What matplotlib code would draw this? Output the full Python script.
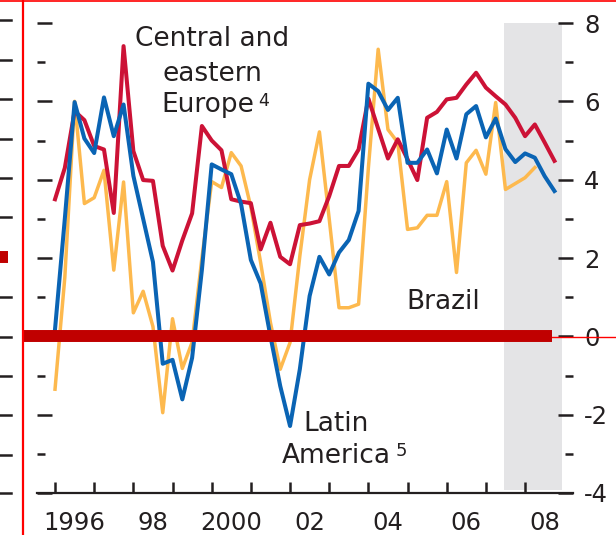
import matplotlib
matplotlib.use("Agg")
import matplotlib.pyplot as plt
import numpy as np
from matplotlib.lines import Line2D
from matplotlib.ticker import FixedLocator, NullFormatter, FixedFormatter

plt.rcParams['font.family'] = ['DejaVu Sans']
plt.rcParams['axes.unicode_minus'] = False

# ---- data (quarterly, 1996Q1 .. 2008Q4) ----
start_year = 1996
n_quarters = 52
quarters = start_year + 0.25 * np.arange(n_quarters)

central_eastern_europe = [3.50, 4.30, 5.75, 5.52, 4.86, 4.77, 3.15, 7.41,
                          4.73, 3.99, 3.97, 2.31, 1.68, 2.45, 3.14, 5.37,
                          5.00, 4.75, 3.50, 3.44, 3.40, 2.22, 2.90, 2.03,
                          1.84, 2.84, 2.88, 2.94, 3.58, 4.35, 4.35, 4.77,
                          6.07, 5.30, 4.54, 5.03, 4.52, 3.99, 5.58, 5.73,
                          6.05, 6.09, 6.43, 6.73, 6.35, 6.13, 5.92, 5.58,
                          5.11, 5.41, 4.95, 4.48]
latin_america = [0.18, 3.00, 5.98, 5.05, 4.68, 6.10, 5.11, 5.92,
                 4.10, 3.00, 1.90, -0.70, -0.60, -1.61, -0.55, 1.70,
                 4.39, 4.26, 4.14, 3.38, 1.95, 1.35, 0.00, -1.27,
                 -2.29, -0.84, 1.03, 2.03, 1.58, 2.14, 2.46, 3.20,
                 6.45, 6.26, 5.78, 6.09, 4.43, 4.43, 4.77, 4.16,
                 5.28, 4.54, 5.67, 5.88, 5.08, 5.56, 4.78, 4.45,
                 4.67, 4.56, 4.09, 3.71]
brazil = [-1.35, 1.50, 6.00, 3.39, 3.54, 4.24, 1.69, 3.94,
          0.60, 1.15, 0.25, -1.95, 0.45, -0.82, -0.15, 2.00,
          3.95, 3.80, 4.69, 4.35, 3.30, 1.88, 0.35, -0.84,
          -0.16, 2.05, 4.00, 5.22, 3.00, 0.73, 0.73, 0.82,
          4.30, 7.33, 5.28, 4.95, 2.73, 2.77, 3.09, 3.09,
          3.95, 1.63, 4.43, 4.75, 4.14, 5.97, 3.75, 3.90,
          4.05, 4.31]

year_ticks = list(range(1996, 2009))
label_years = [1996.5, 1998.5, 2000.5, 2002.5, 2004.5, 2006.5, 2008.5]
label_texts = ['1996', '98', '2000', '02', '04', '06', '08']
y_major = [-4, -2, 0, 2, 4, 6, 8]
y_minor = [-3, -1, 1, 3, 5, 7]
shade_span = (2007.46, 2008.94)

RED = '#cc1236'
BLUE = '#0a64b4'
YELLOW = '#fdb94e'
DARK = '#231f20'

W, H = 616, 535
fig = plt.figure(figsize=(W / 100, H / 100), dpi=100)
fig.patch.set_facecolor('white')

L_px, R_px, T_px, B_px = 37, 573, 23, 493
ax = fig.add_axes([L_px / W, (H - B_px) / H, (R_px - L_px) / W, (B_px - T_px) / H])
ax.set_xlim(1995.54, 2009.224)
ax.set_ylim(-4, 8)
ax.set_facecolor('none')

def px2x(px):
    return 1996 + (px - 55) / 39.17

def py2y(py):
    return (337 - py) / 39.17

ax.axvspan(*shade_span, ymin=0.006, ymax=1.0, color='#e4e4e6', lw=0, zorder=0)

ax.plot(quarters[:len(brazil)], brazil, color=YELLOW, lw=2.5, zorder=3)
ax.plot(quarters, central_eastern_europe, color=RED, lw=2.9, zorder=4)
ax.plot(quarters, latin_america, color=BLUE, lw=2.9, zorder=5)

# thick zero line
ax.axhline(0, xmin=(22 - L_px) / (R_px - L_px), xmax=(552 - L_px) / (R_px - L_px),
           color='#c00000', lw=8.6, clip_on=False, zorder=10, solid_capstyle='butt')

for s in ['left', 'right', 'top']:
    ax.spines[s].set_visible(False)
ax.spines['bottom'].set_color(DARK)
ax.spines['bottom'].set_linewidth(1.6)

ax.xaxis.set_major_locator(FixedLocator(year_ticks))
ax.xaxis.set_major_formatter(NullFormatter())
ax.xaxis.set_minor_locator(FixedLocator(label_years))
ax.xaxis.set_minor_formatter(FixedFormatter(label_texts))
ax.tick_params(axis='x', which='major', direction='in', length=8, width=1.8, color=DARK)
ax.tick_params(axis='x', which='minor', length=0, pad=13, labelsize=17.5, labelcolor=DARK)

ax.yaxis.set_major_locator(FixedLocator(y_major))
ax.yaxis.set_minor_locator(FixedLocator(y_minor))
ax.tick_params(axis='y', which='both', direction='in', left=True, right=True,
               labelleft=False, labelright=True, color=DARK, width=1.8)
ax.tick_params(axis='y', which='major', length=11, pad=8, labelsize=17.5, labelcolor=DARK)
ax.tick_params(axis='y', which='minor', length=6)

# annotations
fs = 19
ax.text(px2x(212), py2y(47), 'Central and', ha='center', va='baseline', fontsize=fs, color=DARK)
ax.text(px2x(212), py2y(82), 'eastern', ha='center', va='baseline', fontsize=fs, color=DARK)
ax.text(px2x(208), py2y(113), 'Europe', ha='center', va='baseline', fontsize=fs, color=DARK)
ax.text(px2x(258), py2y(107), '4', ha='left', va='baseline', fontsize=12.5, color=DARK)
ax.text(px2x(443.5), py2y(310), 'Brazil', ha='center', va='baseline', fontsize=fs, color=DARK)
ax.text(px2x(336.5), py2y(432), 'Latin', ha='center', va='baseline', fontsize=fs, color=DARK)
ax.text(px2x(336.5), py2y(464), 'America', ha='center', va='baseline', fontsize=fs, color=DARK)
ax.text(px2x(396), py2y(457), '5', ha='left', va='baseline', fontsize=13, color=DARK)

# frame decorations from the surrounding page
def fx(px):
    return px / W

def fy(py):
    return 1 - py / H

fig.add_artist(Line2D([fx(552), fx(616)], [fy(337), fy(337)], color='#ff0000', lw=1.0))
fig.add_artist(Line2D([0, 1], [fy(0.6), fy(0.6)], color='#ff0000', lw=1.2))
fig.add_artist(Line2D([fx(22.5), fx(22.5)], [0, 1], color='#ff0000', lw=1.6))
for py in [20, 60, 99, 139, 178, 217, 297, 337, 376, 415, 455, 493]:
    fig.add_artist(Line2D([0, fx(11)], [fy(py), fy(py)], color=DARK, lw=1.8))
fig.add_artist(Line2D([0, fx(8)], [fy(257), fy(257)], color='#c00000', lw=8.6,
                      solid_capstyle='butt'))

fig.savefig('out.png', dpi=100, facecolor='white')
